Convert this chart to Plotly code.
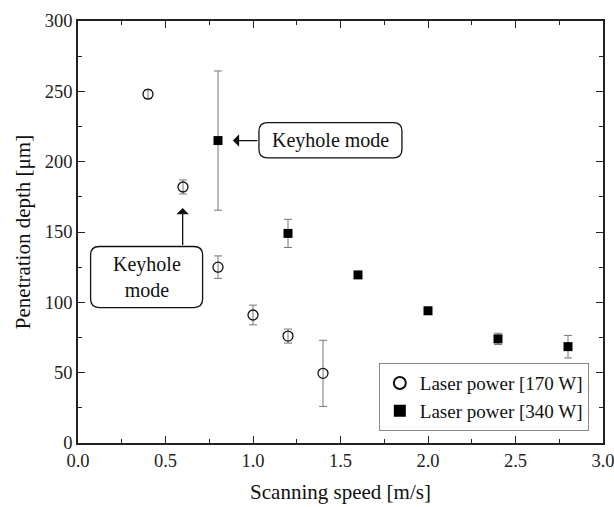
import plotly.graph_objects as go

# Data
speed_170 = [0.4, 0.6, 0.8, 1.0, 1.2, 1.4]
depth_170 = [248, 182, 125, 91, 76, 49.5]
err_170 = [3, 5, 8, 7, 5, 23.5]

speed_340 = [0.8, 1.2, 1.6, 2.0, 2.4, 2.8]
depth_340 = [215, 149, 119.5, 94, 74, 68.5]
err_340 = [49.5, 10, 2, 2, 4, 8]

FONT = "Liberation Serif"

fig = go.Figure()
fig.add_trace(go.Scatter(
    x=speed_170, y=depth_170, mode="markers", name="Laser power [170 W]",
    marker=dict(symbol="circle-open", size=10, color="#111", line=dict(width=1.3)),
    error_y=dict(type="data", array=err_170, color="#777", thickness=1, width=4),
))
fig.add_trace(go.Scatter(
    x=speed_340, y=depth_340, mode="markers", name="Laser power [340 W]",
    marker=dict(symbol="square", size=9, color="#000"),
    error_y=dict(type="data", array=err_340, color="#777", thickness=1, width=4),
))

def rounded_rect(x0, x1, y0, y1, rx, ry):
    return (f"M {x0+rx},{y0} L {x1-rx},{y0} Q {x1},{y0} {x1},{y0+ry} "
            f"L {x1},{y1-ry} Q {x1},{y1} {x1-rx},{y1} L {x0+rx},{y1} "
            f"Q {x0},{y1} {x0},{y1-ry} L {x0},{y0+ry} Q {x0},{y0} {x0+rx},{y0} Z")

rx, ry = 0.05, 6.0
fig.add_shape(type="path", xref="x", yref="y",
              path=rounded_rect(1.034, 1.851, 202.7, 227.7, rx, ry),
              line=dict(color="#111", width=1.3), fillcolor="white")
fig.add_shape(type="path", xref="x", yref="y",
              path=rounded_rect(0.072, 0.712, 96.3, 139.7, rx, ry),
              line=dict(color="#111", width=1.3), fillcolor="white")

fig.add_annotation(x=1.443, y=215.2, text="Keyhole mode", showarrow=False,
                   font=dict(family=FONT, size=20, color="#111"))
fig.add_annotation(x=0.392, y=118, text="Keyhole<br>mode", showarrow=False,
                   font=dict(family=FONT, size=20, color="#111"))

fig.add_annotation(x=0.885, y=215, ax=1.034, ay=215, axref="x", ayref="y",
                   text="", showarrow=True, arrowhead=1, arrowsize=1.6,
                   arrowwidth=1.3, arrowcolor="#111")
fig.add_annotation(x=0.598, y=167, ax=0.598, ay=139.7, axref="x", ayref="y",
                   text="", showarrow=True, arrowhead=1, arrowsize=1.6,
                   arrowwidth=1.3, arrowcolor="#111")

axis_common = dict(
    showgrid=False, zeroline=False, showline=True, linecolor="#222", linewidth=1.5,
    mirror="allticks", ticks="inside", ticklen=7, tickwidth=1.3, tickcolor="#222",
    tickfont=dict(family=FONT, size=18.5, color="#222"), automargin=False,
    ticklabeloverflow="allow",
)
fig.update_xaxes(range=[0, 3.0], dtick=0.5, tickformat=".1f",
                 minor=dict(dtick=0.25, ticks="inside", ticklen=4, tickcolor="#222", tickwidth=1.2),
                 title=dict(text="Scanning speed [m/s]", font=dict(family=FONT, size=21, color="#111"), standoff=14),
                 **axis_common)
fig.update_yaxes(range=[0, 300], dtick=50,
                 minor=dict(dtick=25, ticks="inside", ticklen=4, tickcolor="#222", tickwidth=1.2),
                 title=dict(text="Penetration depth [μm]", font=dict(family=FONT, size=21, color="#111"), standoff=8),
                 **axis_common)

fig.update_layout(
    width=614, height=507,
    margin=dict(l=78, r=11, t=21, b=64),
    paper_bgcolor="white", plot_bgcolor="white",
    font=dict(family=FONT),
    showlegend=True,
    legend=dict(x=0.973, y=0.028, xanchor="right", yanchor="bottom",
                bordercolor="#888", borderwidth=1, bgcolor="white",
                font=dict(family=FONT, size=19, color="#111"),
                tracegroupgap=0, itemsizing="constant",
                itemwidth=30),
)

fig.write_html("out.html")
